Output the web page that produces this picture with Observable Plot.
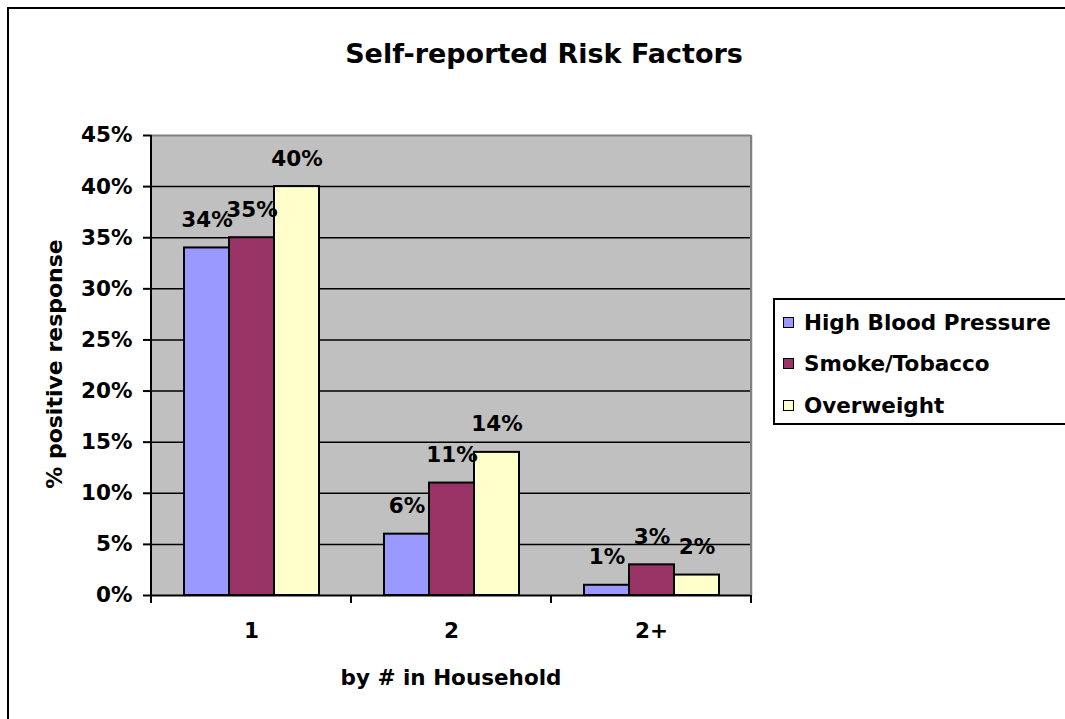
<!DOCTYPE html>
<html>
<head>
<meta charset="utf-8">
<script src="https://cdn.jsdelivr.net/npm/d3@7"></script>
<script src="https://cdn.jsdelivr.net/npm/@observablehq/plot@0.6"></script>
<style>
  html, body { margin: 0; padding: 0; background: #fff; }
  #wrap { position: relative; width: 1065px; height: 719px; overflow: hidden; background: #fff;
          font-family: "DejaVu Sans", sans-serif; font-weight: bold; color: #000; }
  #border { position: absolute; left: 7px; top: 7px; width: 1200px; height: 900px; border: 2px solid #000; }
  #chart { position: absolute; left: 0; top: 0; }
  .txt { position: absolute; white-space: nowrap; }
  #legendBox { position: absolute; left: 773px; top: 298px; width: 400px; height: 123px; border: 2px solid #000; background: #fff; }
  .sw { position: absolute; width: 11px; height: 11px; box-sizing: border-box; border: 1px solid #000; }
</style>
</head>
<body>
<div id="wrap">
  <div id="border"></div>
  <div id="chart"></div>
  <div class="txt" id="title" style="left:294px;width:500px;top:40px;text-align:center;font-size:27px;line-height:27px;"></div>
  <div class="txt" id="ylabel" style="left:55px;top:364px;font-size:22px;line-height:22px;transform:translate(-50%,-50%) rotate(-90deg);"></div>
  <div class="txt" id="xlabel" style="left:251px;width:400px;top:667px;text-align:center;font-size:21.5px;line-height:21.5px;"></div>
  <div id="legendBox"></div>
</div>
<script>
// ---- data ----
const titleText = "Self-reported Risk Factors";
const yLabel = "% positive response";
const xLabel = "by # in Household";
const categories = ["1", "2", "2+"];
const series = ["High Blood Pressure", "Smoke/Tobacco", "Overweight"];
const highBloodPressure = [34, 6, 1];
const smokeTobacco = [35, 11, 3];
const overweight = [40, 14, 2];
const seriesColors = ["#9999FF", "#993366", "#FFFFCC"];
const yTicks = [0, 5, 10, 15, 20, 25, 30, 35, 40, 45];

const valuesBySeries = [highBloodPressure, smokeTobacco, overweight];
const rows = [];
categories.forEach((c, i) => {
  series.forEach((s, j) => rows.push({category: c, series: s, value: valuesBySeries[j][i]}));
});

document.getElementById("title").textContent = titleText;
document.getElementById("ylabel").textContent = yLabel;
document.getElementById("xlabel").textContent = xLabel;

const chart = Plot.plot({
  width: 770,
  height: 719,
  marginLeft: 150,
  marginRight: 18,
  marginTop: 135,
  marginBottom: 124,
  style: {background: "transparent", fontFamily: "DejaVu Sans", fontWeight: "bold", fontSize: "21.5px", color: "#000", overflow: "visible"},
  fx: {domain: categories, padding: 0, label: null},
  x: {domain: series, paddingInner: 0, paddingOuter: 0.72, axis: null},
  y: {domain: [0, 45], label: null},
  color: {domain: series, range: seriesColors},
  marks: [
    Plot.frame({fill: "#C0C0C0", stroke: "none", insetLeft: -1, insetRight: -1}),
    Plot.ruleY(yTicks.filter(t => t > 0 && t < 45), {stroke: "#000", strokeWidth: 1.5}),
    Plot.ruleY([45], {stroke: "#808080", strokeWidth: 2}),
    Plot.barY(rows, {fx: "category", x: "series", y: "value", fill: "series", stroke: "#000", strokeWidth: 2}),
    Plot.ruleY([0], {stroke: "#000", strokeWidth: 2}),
    Plot.text(rows, {fx: "category", x: "series", y: "value", text: d => d.value + "%", dy: -28, fill: "#000"}),
    Plot.axisY({ticks: yTicks, tickSize: 8, tickPadding: 11, tickFormat: d => d + "%", strokeWidth: 2, label: null}),
    Plot.axisFx({anchor: "bottom", tickSize: 0, tickPadding: 27, label: null})
  ]
});
document.getElementById("chart").appendChild(chart);

// axis line and category boundary ticks from Plot's own scales
const fx = chart.scale("fx");
const ys = chart.scale("y");
if (fx && ys) {
  const bounds = categories.map(c => fx.apply(c));
  bounds.push(fx.apply(categories[categories.length - 1]) + fx.bandwidth);
  const y0 = ys.apply(0), yTop = ys.apply(45);
  const g = d3.select(chart).append("g");
  g.append("line").attr("x1", bounds[bounds.length - 1]).attr("x2", bounds[bounds.length - 1])
    .attr("y1", yTop).attr("y2", y0).attr("stroke", "#808080").attr("stroke-width", 2);
  g.append("line").attr("x1", bounds[0]).attr("x2", bounds[0])
    .attr("y1", yTop).attr("y2", y0).attr("stroke", "#000").attr("stroke-width", 2);
  g.selectAll("line.tk").data(bounds).join("line").attr("class", "tk")
    .attr("x1", d => d).attr("x2", d => d).attr("y1", y0).attr("y2", y0 + 8)
    .attr("stroke", "#000").attr("stroke-width", 2);
}

// legend
const box = document.getElementById("legendBox");
const baselines = [330, 371.5, 413];
series.forEach((s, i) => {
  const sw = document.createElement("div");
  sw.className = "sw";
  sw.style.background = seriesColors[i];
  sw.style.left = (783 - 775) + "px";
  sw.style.top = (baselines[i] - 13.5 - 300) + "px";
  box.appendChild(sw);
  const t = document.createElement("div");
  t.className = "txt";
  t.textContent = s;
  t.style.fontSize = "21.5px";
  t.style.lineHeight = "21.5px";
  t.style.left = (804 - 775) + "px";
  t.style.top = (baselines[i] - 18.2 - 300) + "px";
  box.appendChild(t);
});
</script>
</body>
</html>
